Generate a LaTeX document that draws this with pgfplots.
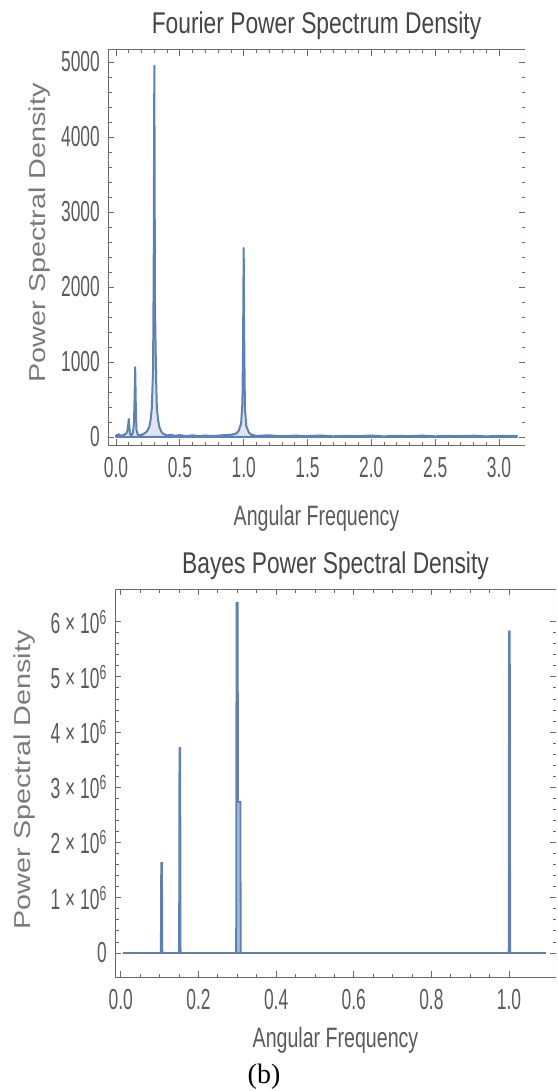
\documentclass[border=0pt]{standalone}
\usepackage{fontspec}
\setmainfont{Liberation Sans}
\usepackage{pgfplots}
\pgfplotsset{compat=1.18}

\newfontfamily\titlefont[FakeStretch=0.76]{Liberation Sans}
\newfontfamily\tickfont[FakeStretch=0.6]{Liberation Sans}
\newfontfamily\labfont[FakeStretch=0.7]{Liberation Sans}
\newfontfamily\ylabfont[FakeStretch=1.25]{Liberation Sans}
\newfontfamily\capfont{Liberation Serif}

\definecolor{mblue}{HTML}{5E81B5}
\definecolor{mfill}{HTML}{C9D6EA}
\definecolor{framec}{HTML}{6A6A6A}
\definecolor{titlec}{HTML}{454545}
\definecolor{tickc}{HTML}{5A5A5A}
\definecolor{ylabc}{HTML}{7A7A7A}

\pgfplotsset{
  mma/.style={
    scale only axis,
    axis line style={draw=none},
    scaled ticks=false,
    tick style={framec, line width=0.8pt},
    major tick length=6pt,
    minor tick length=3.5pt,
    ticklabel style={font=\fontsize{29}{30}\tickfont, text=tickc, inner sep=0pt},
    xticklabel style={anchor=north, yshift=-12pt},
    yticklabel style={anchor=east, xshift=-8pt},
    title style={font=\fontsize{30}{31}\titlefont, text=titlec, at={(0.5,1)}, anchor=base, yshift=10pt},
    xlabel style={font=\fontsize{28}{30}\labfont, text=tickc, at={(0.5,0)}, anchor=base},
    ylabel style={font=\fontsize{23}{25}\ylabfont, text=ylabc, anchor=center},
    clip=true,
  }
}

\begin{document}
\begin{tikzpicture}
\useasboundingbox (0pt,0pt) rectangle (557pt,-1091pt);

% top: Fourier spectrum
\begin{axis}[mma,
  at={(108pt,-445pt)}, anchor=south west,
  width=417pt, height=395pt,
  xmin=-0.063, xmax=3.204,
  ymin=-107, ymax=5160,
  xtick={0,0.5,1,1.5,2,2.5,3},
  xticklabels={0.0,0.5,1.0,1.5,2.0,2.5,3.0},
  minor x tick num=4,
  ytick={0,1000,2000,3000,4000,5000},
  yticklabels={0,1000,2000,3000,4000,5000},
  minor y tick num=4,
  title={Fourier Power Spectrum Density},
  xlabel={Angular Frequency},
  xlabel style={yshift=-80pt},
  ylabel={Power Spectral Density},
  ylabel style={at={(axis description cs:-0.165,0.537)}},
]
\draw[framec, line width=1pt] (rel axis cs:0,0) -- (rel axis cs:1,0);
\draw[framec, line width=1pt] (rel axis cs:0,0) -- (rel axis cs:0,1) -- (rel axis cs:1,1);
\draw[framec!25, line width=0.6pt] (rel axis cs:1,0) -- (rel axis cs:1,1);
\addplot[draw=mblue, line width=2pt, fill=mfill, fill opacity=0.6, line join=round] coordinates {
 (0.000,20) (0.02,35) (0.04,15) (0.06,30) (0.08,45) (0.09,90) (0.10,240) (0.105,120)
 (0.11,40) (0.12,25) (0.13,45) (0.14,160) (0.145,500) (0.15,930) (0.155,400) (0.16,90)
 (0.17,35) (0.18,20) (0.20,30) (0.22,45) (0.24,70) (0.26,130) (0.27,220) (0.28,380)
 (0.29,900) (0.295,2200) (0.30,4950) (0.305,1800) (0.31,1190) (0.315,700) (0.32,380)
 (0.33,220) (0.34,130) (0.35,90) (0.36,55) (0.38,35) (0.40,20) (0.43,30) (0.46,15)
 (0.50,25) (0.55,12) (0.60,22) (0.65,10) (0.70,20) (0.75,12) (0.80,18) (0.85,25)
 (0.90,30) (0.94,45) (0.96,80) (0.98,180) (0.99,450) (0.995,1200) (1.00,2520)
 (1.005,1100) (1.01,380) (1.02,150) (1.04,60) (1.06,30) (1.10,15) (1.20,22) (1.30,10)
 (1.40,18) (1.50,12) (1.60,20) (1.70,9) (1.80,16) (1.90,11) (2.00,19) (2.10,8)
 (2.20,15) (2.30,12) (2.40,18) (2.50,9) (2.60,14) (2.70,11) (2.80,17) (2.90,8)
 (3.00,15) (3.10,10) (3.14,12)
} \closedcycle;
\end{axis}

% bottom: Bayes spectrum
\begin{axis}[mma,
  at={(115pt,-977pt)}, anchor=south west,
  width=441pt, height=388pt,
  xmin=-0.015, xmax=1.121,
  ymin=-0.435e6, ymax=6.59e6,
  xtick={0,0.2,0.4,0.6,0.8,1.0},
  xticklabels={0.0,0.2,0.4,0.6,0.8,1.0},
  minor x tick num=3,
  ytick={0,1e6,2e6,3e6,4e6,5e6,6e6},
  yticklabels={0,{1\,×\,10\textsuperscript{6}},{2\,×\,10\textsuperscript{6}},{3\,×\,10\textsuperscript{6}},{4\,×\,10\textsuperscript{6}},{5\,×\,10\textsuperscript{6}},{6\,×\,10\textsuperscript{6}}},
  minor y tick num=4,
  title={Bayes Power Spectral Density},
  xlabel={Angular Frequency},
  xlabel style={yshift=-70pt},
  ylabel={Power Spectral Density},
  ylabel style={at={(axis description cs:-0.206,0.508)}},
]
\draw[framec, line width=1pt] (rel axis cs:0,0) -- (rel axis cs:1,0);
\draw[framec, line width=1pt] (rel axis cs:0,0) -- (rel axis cs:0,1) -- (rel axis cs:1,1);
\draw[framec!25, line width=0.6pt] (rel axis cs:1,0) -- (rel axis cs:1,1);
\addplot[draw=mblue, line width=1.8pt, fill=mblue!70, fill opacity=0.8] coordinates {
 (0.005,0) (0.103,0) (0.104,1.63e6) (0.106,1.63e6) (0.107,0)
 (0.150,0) (0.151,3.71e6) (0.153,3.71e6) (0.154,0)
 (0.297,0) (0.298,6.34e6) (0.301,6.34e6) (0.302,2.74e6) (0.308,2.74e6) (0.309,0)
 (0.999,0) (1.000,5.82e6) (1.002,5.82e6) (1.003,0) (1.095,0)
} \closedcycle;
\end{axis}

\node[font=\fontsize{28}{30}\capfont, anchor=center] at (264pt,-1077pt) {(b)};
\end{tikzpicture}
\end{document}
